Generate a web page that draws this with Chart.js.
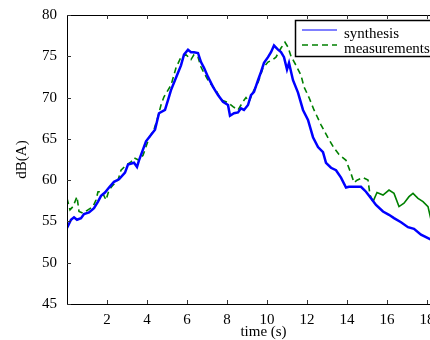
<!DOCTYPE html>
<html>
<head>
<meta charset="utf-8">
<script src="https://cdn.jsdelivr.net/npm/chart.js@4"></script>
<style>
  html, body { margin: 0; padding: 0; background: #fff; }
  #wrap { width: 430px; height: 340px; overflow: hidden; }
</style>
</head>
<body>
<div id="wrap"><canvas id="chart" width="470" height="340"></canvas></div>
<script>
// time (s) and level dB(A)
const synthT  = [0.0, 0.2, 0.35, 0.5, 0.7, 0.85, 1.1, 1.35, 1.55, 1.7, 1.9, 2.1, 2.35, 2.6, 2.9, 3.05, 3.35, 3.5, 3.6, 3.95, 4.3, 4.4, 4.6, 4.9, 5.05, 5.2, 5.55, 5.7, 5.85, 6.05, 6.2, 6.35, 6.55, 6.7, 6.85, 7.05, 7.3, 7.55, 7.8, 8.05, 8.15, 8.35, 8.55, 8.7, 8.85, 9.05, 9.2, 9.35, 9.55, 9.7, 9.85, 10.05, 10.2, 10.35, 10.55, 10.7, 10.85, 11.0, 11.1, 11.3, 11.55, 11.8, 12.05, 12.3, 12.55, 12.8, 12.95, 13.2, 13.45, 13.7, 13.95, 14.1, 14.45, 14.7, 14.95, 15.2, 15.45, 15.8, 16.1, 16.35, 16.7, 17.05, 17.35, 17.7, 17.95, 18.2];
const synthDb = [54.2, 55.2, 55.5, 55.2, 55.4, 55.9, 56.1, 56.6, 57.4, 58.1, 58.5, 59.1, 59.8, 60.1, 60.9, 61.9, 62.1, 61.6, 62.4, 64.7, 65.8, 66.1, 68.1, 68.5, 69.7, 70.9, 73.0, 73.9, 75.2, 75.8, 75.5, 75.5, 75.4, 74.3, 73.6, 72.5, 71.3, 70.3, 69.5, 69.1, 67.8, 68.1, 68.2, 68.7, 68.5, 69.1, 70.3, 70.7, 72.1, 73.1, 74.2, 74.9, 75.5, 76.3, 75.8, 75.5, 74.9, 73.4, 74.2, 72.1, 70.6, 68.5, 67.3, 65.2, 64.0, 63.4, 62.1, 61.5, 61.2, 60.3, 59.1, 59.2, 59.2, 59.2, 58.6, 57.8, 57.0, 56.2, 55.8, 55.4, 54.9, 54.3, 54.1, 53.4, 53.1, 52.8];

const measT  = [0.0, 0.15, 0.3, 0.5, 0.6, 0.8, 1.05, 1.3, 1.45, 1.55, 1.75, 1.95, 2.1, 2.3, 2.55, 2.7, 2.95, 3.2, 3.35, 3.6, 3.8, 4.1, 4.35, 4.55, 4.7, 4.85, 5.05, 5.2, 5.45, 5.7, 5.95, 6.2, 6.35, 6.55, 6.7, 6.85, 7.1, 7.45, 7.7, 7.95, 8.1, 8.3, 8.55, 8.8, 8.95, 9.1, 9.3, 9.55, 9.8, 10.05, 10.3, 10.45, 10.7, 10.9, 11.05, 11.2, 11.45, 11.7, 11.85, 12.1, 12.35, 12.7, 13.1, 13.35, 13.6, 13.95, 14.2, 14.35, 14.5, 14.8, 15.05, 15.15, 15.3, 15.5, 15.8, 16.1, 16.35, 16.6, 16.85, 17.1, 17.3, 17.55, 17.8, 18.05, 18.2];
const measDb = [57.8, 56.4, 56.8, 58.0, 56.2, 56.0, 56.4, 56.8, 57.6, 58.6, 58.6, 57.6, 58.8, 59.4, 60.0, 61.2, 61.8, 62.2, 62.7, 62.4, 63.0, 65.1, 66.1, 67.7, 69.1, 70.1, 70.9, 71.5, 73.6, 74.9, 75.2, 74.6, 75.2, 74.9, 73.7, 73.0, 71.9, 70.9, 69.7, 69.5, 69.3, 68.9, 68.5, 69.5, 70.0, 69.5, 70.7, 71.8, 73.6, 74.3, 74.6, 74.9, 76.0, 76.7, 76.1, 75.0, 73.9, 72.7, 71.3, 70.0, 68.5, 66.7, 64.9, 63.9, 63.1, 62.4, 60.8, 59.7, 60.0, 60.3, 60.0, 58.2, 57.4, 58.5, 58.2, 58.8, 58.4, 56.8, 57.2, 58.0, 58.4, 57.8, 57.4, 56.8, 55.2];

const xTicks = [2, 4, 6, 8, 10, 12, 14, 16, 18];
const yTicks = [45, 50, 55, 60, 65, 70, 75, 80];

const serif = 'Liberation Serif';

// box frame, inward tick marks and the little legend box (matlab look)
const matlabStyle = {
  id: 'matlabStyle',
  afterDraw(chart) {
    const { ctx, chartArea: a, scales: { x, y } } = chart;
    ctx.save();
    ctx.strokeStyle = '#000';
    ctx.lineWidth = 1;
    ctx.strokeRect(a.left + 0.5, a.top + 0.5, a.right - a.left, a.bottom - a.top);

    ctx.strokeStyle = '#333';
    ctx.beginPath();
    xTicks.forEach(v => {
      const px = Math.round(x.getPixelForValue(v)) + 0.5;
      ctx.moveTo(px, a.bottom); ctx.lineTo(px, a.bottom - 4);
      ctx.moveTo(px, a.top); ctx.lineTo(px, a.top + 4);
    });
    yTicks.forEach(v => {
      const py = Math.round(y.getPixelForValue(v)) + 0.5;
      ctx.moveTo(a.left, py); ctx.lineTo(a.left + 4, py);
    });
    ctx.stroke();

    // legend
    const lx = 295, ly = 20;
    ctx.fillStyle = '#fff';
    ctx.fillRect(lx, ly, 160, 36);
    ctx.strokeStyle = '#000';
    ctx.lineWidth = 1.5;
    ctx.strokeRect(lx + 0.5, ly + 0.5, 160, 36);

    ctx.lineWidth = 1.2;
    ctx.strokeStyle = '#0000ff';
    ctx.beginPath(); ctx.moveTo(302, 30); ctx.lineTo(337, 30); ctx.stroke();
    ctx.strokeStyle = '#008000';
    ctx.lineWidth = 1.5;
    ctx.setLineDash([6, 4]);
    ctx.beginPath(); ctx.moveTo(302, 45); ctx.lineTo(337, 45); ctx.stroke();
    ctx.setLineDash([]);

    ctx.fillStyle = '#000';
    ctx.font = '15px "' + serif + '"';
    ctx.textBaseline = 'middle';
    ctx.fillText('synthesis', 344, 34);
    ctx.fillText('measurements', 344, 49);
    ctx.restore();
  }
};

new Chart(document.getElementById('chart'), {
  type: 'line',
  data: {
    datasets: [
      {
        label: 'synthesis',
        data: synthT.map((t, i) => ({ x: t, y: synthDb[i] })),
        borderColor: '#0000ff',
        borderWidth: 2.5,
        pointRadius: 0,
        tension: 0
      },
      {
        label: 'measurements',
        data: measT.map((t, i) => ({ x: t, y: measDb[i] })),
        borderColor: '#008000',
        borderWidth: 1.6,
        pointRadius: 0,
        tension: 0,
        segment: {
          borderDash: c => c.p0.parsed.x >= 15.3 ? [] : [6, 4]
        }
      }
    ]
  },
  options: {
    responsive: false,
    animation: false,
    layout: { padding: { top: 15, right: 10, left: 0, bottom: 0 } },
    plugins: {
      legend: { display: false },
      tooltip: { enabled: false }
    },
    scales: {
      x: {
        type: 'linear',
        min: 0,
        max: 19.65,
        afterBuildTicks: s => { s.ticks = xTicks.map(v => ({ value: v })); },
        afterFit: s => { s.height = 36; s.paddingLeft = 0; s.paddingRight = 0; },
        grid: { display: false, drawTicks: false },
        border: { display: true, color: '#000', width: 1 },
        ticks: {
          padding: 7,
          color: '#000',
          font: { family: serif, size: 15 },
          maxRotation: 0
        },
        title: {
          display: true,
          text: 'time (s)',
          color: '#000',
          font: { family: serif, size: 15, lineHeight: 1.0 },
          padding: { top: 0, bottom: 0 }
        }
      },
      y: {
        min: 45,
        max: 80,
        afterBuildTicks: s => { s.ticks = yTicks.map(v => ({ value: v })); },
        afterFit: s => { s.width = 67; s.paddingTop = 0; s.paddingBottom = 0; },
        grid: { display: false, drawTicks: false },
        border: { display: true, color: '#000', width: 1 },
        ticks: {
          padding: 10,
          color: '#000',
          font: { family: serif, size: 15 }
        },
        title: {
          display: true,
          text: 'dB(A)',
          color: '#000',
          font: { family: serif, size: 15, lineHeight: 1.2 },
          padding: { top: 13, bottom: 0 }
        }
      }
    }
  },
  plugins: [matlabStyle]
});
</script>
</body>
</html>
